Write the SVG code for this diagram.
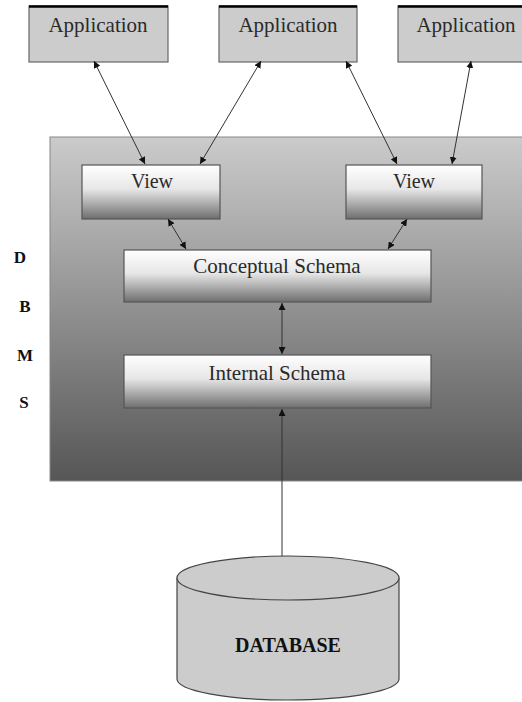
<svg xmlns="http://www.w3.org/2000/svg" width="522" height="702" viewBox="0 0 522 702">
<defs>
<linearGradient id="dbmsGrad" x1="0" y1="0" x2="0" y2="1">
<stop offset="0" stop-color="#cbcbcb"/>
<stop offset="1" stop-color="#565656"/>
</linearGradient>
<linearGradient id="boxGrad" x1="0" y1="0" x2="0" y2="1">
<stop offset="0" stop-color="#ffffff"/>
<stop offset="0.45" stop-color="#e6e6e6"/>
<stop offset="1" stop-color="#6e6e6e"/>
</linearGradient>
<marker id="ah" viewBox="0 0 10 10" refX="10" refY="5" markerWidth="7" markerHeight="7" markerUnits="userSpaceOnUse" orient="auto-start-reverse">
<path d="M0,0 L10,5 L0,10 z" fill="#111"/>
</marker>
<style>
.app{fill:#cccccc;stroke:#666;stroke-width:1.2}
.apptop{stroke:#000;stroke-width:2.5}
.lbl{font-family:"Liberation Serif","Times New Roman",serif;font-size:21px;fill:#2a2a2a;text-anchor:middle}
.gbox{fill:url(#boxGrad);stroke:#555;stroke-width:1.2}
.side{font-family:"Liberation Serif","Times New Roman",serif;font-size:17px;font-weight:bold;fill:#111;text-anchor:middle}
.conn{stroke:#333;stroke-width:1;fill:none}
</style>
</defs>
<rect width="522" height="702" fill="#ffffff"/>
<g id="dbms">
<rect x="50" y="137" width="480" height="344" fill="url(#dbmsGrad)" stroke="#888" stroke-width="1"/>
<text class="side" x="20" y="263">D</text>
<text class="side" x="25" y="312">B</text>
<text class="side" x="25" y="361">M</text>
<text class="side" x="24" y="408">S</text>
</g>
<g id="app1">
<rect class="app" x="29" y="6" width="139" height="56"/>
<line class="apptop" x1="29" y1="6.5" x2="168" y2="6.5"/>
<text class="lbl" x="98" y="32">Application</text>
</g>
<g id="app2">
<rect class="app" x="219" y="6" width="138" height="56"/>
<line class="apptop" x1="219" y1="6.5" x2="357" y2="6.5"/>
<text class="lbl" x="288" y="32">Application</text>
</g>
<g id="app3">
<rect class="app" x="398" y="6" width="140" height="56"/>
<line class="apptop" x1="398" y1="6.5" x2="538" y2="6.5"/>
<text class="lbl" x="466" y="32">Application</text>
</g>
<g id="view1">
<rect class="gbox" x="82" y="165" width="138" height="54"/>
<text class="lbl" x="152" y="188" style="font-size:20px">View</text>
</g>
<g id="view2">
<rect class="gbox" x="346" y="165" width="136" height="54"/>
<text class="lbl" x="414" y="188" style="font-size:20px">View</text>
</g>
<g id="conceptual">
<rect class="gbox" x="124" y="250" width="307" height="52"/>
<text class="lbl" x="277" y="273">Conceptual Schema</text>
</g>
<g id="internal">
<rect class="gbox" x="124" y="355" width="307" height="53"/>
<text class="lbl" x="277" y="380">Internal Schema</text>
</g>
<g id="database">
<path d="M177,578 L177,679 A111,21 0 0 0 399,679 L399,578" fill="#cccccc" stroke="#444" stroke-width="1.2"/>
<ellipse cx="288" cy="578" rx="111" ry="22" fill="#cccccc" stroke="#444" stroke-width="1.2"/>
<text class="lbl" x="288" y="652" style="font-weight:bold;fill:#111;font-size:20px">DATABASE</text>
</g>
<g id="connectors">
<line class="conn" x1="94" y1="61" x2="145" y2="164" marker-start="url(#ah)" marker-end="url(#ah)"/>
<line class="conn" x1="261" y1="61" x2="200" y2="164" marker-start="url(#ah)" marker-end="url(#ah)"/>
<line class="conn" x1="346" y1="61" x2="397" y2="164" marker-start="url(#ah)" marker-end="url(#ah)"/>
<line class="conn" x1="471" y1="61" x2="452" y2="164" marker-start="url(#ah)" marker-end="url(#ah)"/>
<line class="conn" x1="168" y1="219" x2="186" y2="249" marker-start="url(#ah)" marker-end="url(#ah)"/>
<line class="conn" x1="407" y1="219" x2="388" y2="249" marker-start="url(#ah)" marker-end="url(#ah)"/>
<line class="conn" x1="282" y1="303" x2="282" y2="354" marker-start="url(#ah)" marker-end="url(#ah)"/>
<line class="conn" x1="282" y1="556" x2="282" y2="409" marker-end="url(#ah)"/>
</g>
</svg>
